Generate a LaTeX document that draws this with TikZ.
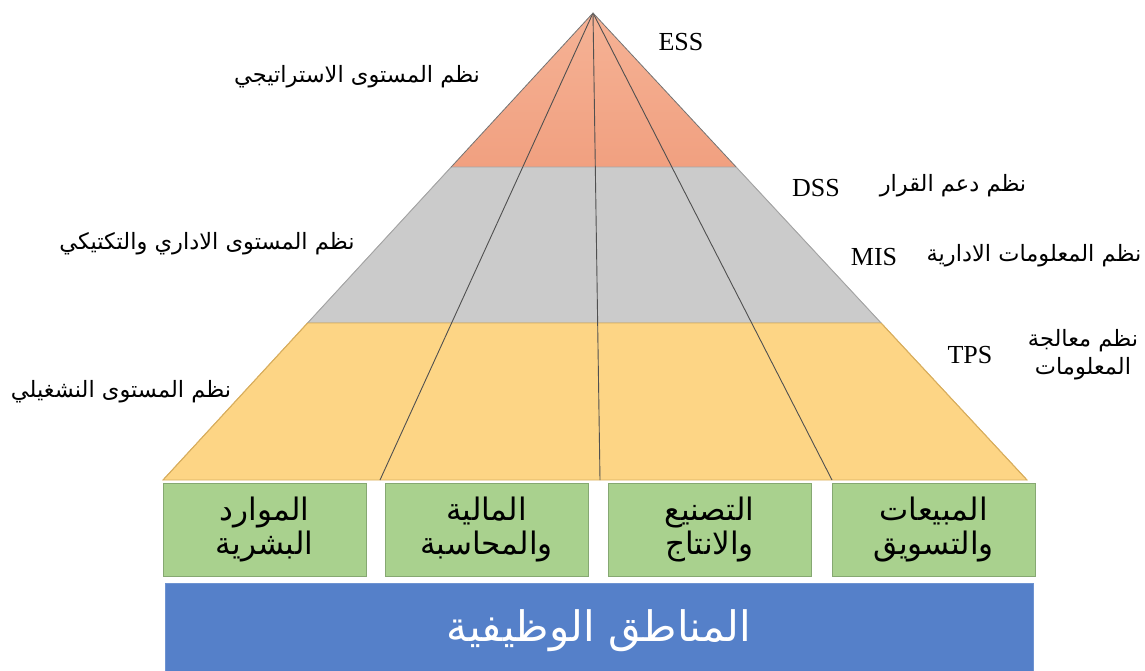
\documentclass[tikz,border=0pt]{standalone}
\usepackage{fontspec}
\setmainfont{Liberation Serif}
\newfontfamily\arfont[Script=Arabic]{DejaVu Sans}
\TeXXeTstate=1
\usetikzlibrary{calc}

\definecolor{orangeTop}{HTML}{F5B295}
\definecolor{orangeBot}{HTML}{F1A080}
\definecolor{grayFill}{HTML}{CBCBCB}
\definecolor{grayEdge}{HTML}{A5A5A5}
\definecolor{yellowFill}{HTML}{FDD585}
\definecolor{yellowEdge}{HTML}{D8AE5E}
\definecolor{boxFill}{HTML}{A9D18E}
\definecolor{boxEdge}{HTML}{86A872}
\definecolor{barFill}{HTML}{5580C9}
\definecolor{lineGray}{HTML}{505050}

\tikzset{
  divider/.style={draw=lineGray, line width=0.9pt},
  sideline/.style={draw=lineGray!80, line width=0.8pt, line join=round},
  areabox/.style={draw=boxEdge, fill=boxFill, line width=0.9pt,
    minimum width=203pt, minimum height=93pt, inner sep=0pt,
    align=center, font=\arfont\fontsize{31}{34}\selectfont},
  arlabel/.style={inner sep=0pt, font=\arfont\fontsize{22.5}{28}\selectfont},
  enlabel/.style={inner sep=0pt, font=\fontsize{26}{30}\selectfont},
}

\begin{document}
\begin{tikzpicture}[x=1pt,y=-1pt]
\useasboundingbox (0,0) rectangle (1145,671);

% pyramid corners
\coordinate (apex) at (593,13);
\coordinate (bl) at (163,480);
\coordinate (br) at (1027,480);
% level boundaries on the two sides
\coordinate (l1) at ($(apex)!0.3298!(bl)$);
\coordinate (r1) at ($(apex)!0.3298!(br)$);
\coordinate (l2) at ($(apex)!0.6638!(bl)$);
\coordinate (r2) at ($(apex)!0.6638!(br)$);
% foot points of the dividing lines
\coordinate (d1) at (380,480);
\coordinate (d2) at (600,480);
\coordinate (d3) at (832,480);

% three levels
\shade[top color=orangeTop, bottom color=orangeBot]
  (apex) -- (r1) -- (l1) -- cycle;
\filldraw[fill=grayFill, draw=grayEdge, line width=0.6pt]
  (l1) -- (r1) -- (r2) -- (l2) -- cycle;
\filldraw[fill=yellowFill, draw=yellowEdge, line width=0.9pt]
  (l2) -- (r2) -- (br) -- (bl) -- cycle;

% dividing lines from the apex
\draw[divider] (apex) -- (d1);
\draw[divider] (apex) -- (d2);
\draw[divider] (apex) -- (d3);

% outer sides
\draw[sideline] (l1) -- (apex) -- (r1);
\draw[grayEdge, line width=0.8pt] (l1) -- (l2) (r1) -- (r2);
\draw[yellowEdge, line width=0.9pt] (l2) -- (bl) (r2) -- (br);

% functional areas
\node[areabox] (hr)  at (264.5,529.5) {\beginR الموارد\endR\\\beginR البشرية\endR};
\node[areabox] (fin) at (486.5,529.5) {\beginR المالية\endR\\\beginR والمحاسبة\endR};
\node[areabox] (man) at (709.5,529.5) {\beginR التصنيع\endR\\\beginR والانتاج\endR};
\node[areabox] (mkt) at (933.5,529.5) {\beginR المبيعات\endR\\\beginR والتسويق\endR};

% base bar with its caption
\node[draw=barFill!85!white, fill=barFill, line width=0.8pt,
      minimum width=868pt, minimum height=88pt, inner sep=0pt]
  (areas) at (599,627) {};
\node[text=white, inner sep=0pt, font=\arfont\fontsize{42}{48}\selectfont]
  (areasText) at (599,631) {\beginR المناطق الوظيفية\endR};

% level labels on the left
\node[arlabel] (strat) at (357,77)  {\beginR نظم المستوى الاستراتيجي\endR};
\node[arlabel] (tact)  at (207,244) {\beginR نظم المستوى الاداري والتكتيكي\endR};
\node[arlabel] (oper)  at (121,392) {\beginR نظم المستوى النشغيلي\endR};

% system labels on the right
\node[enlabel] (ess) at (681,42)  {ESS};
\node[enlabel] (dss) at (816,188) {DSS};
\node[arlabel] (dssAr) at (953,186) {\beginR نظم دعم القرار\endR};
\node[enlabel] (mis) at (874,257) {MIS};
\node[arlabel] (misAr) at (1034,256) {\beginR نظم المعلومات الادارية\endR};
\node[enlabel] (tps) at (970,355) {TPS};
\node[arlabel, align=center] (tpsAr) at (1083,355)
  {\beginR نظم معالجة\endR\\\beginR المعلومات\endR};
\end{tikzpicture}
\end{document}
